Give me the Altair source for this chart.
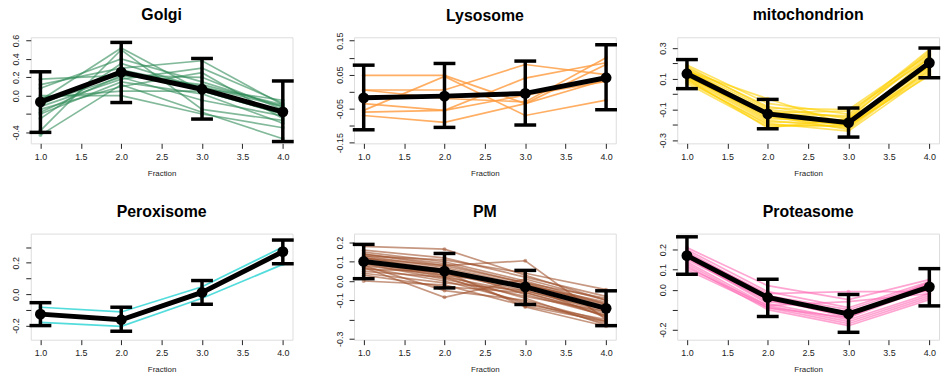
import json
import altair as alt
import pandas as pd

fractions = [1, 2, 3, 4]

# ---------------- data ----------------
golgi_lines = [
    [0.18, 0.22, 0.20, -0.15],
    [0.12, 0.30, 0.38, -0.10],
    [0.08, 0.40, 0.15, -0.12],
    [-0.05, 0.52, 0.05, -0.20],
    [-0.12, 0.18, 0.30, -0.08],
    [-0.15, 0.10, 0.25, -0.25],
    [-0.20, 0.15, 0.02, -0.30],
    [-0.38, 0.50, -0.15, -0.27],
    [-0.43, 0.12, -0.18, -0.47],
    [-0.10, 0.28, 0.10, -0.12],
    [-0.02, 0.05, 0.05, -0.20],
    [-0.18, 0.22, 0.12, -0.10],
    [0.00, 0.00, -0.20, -0.35],
    [-0.25, 0.35, 0.08, -0.05],
    [-0.08, 0.20, -0.05, -0.22],
]
golgi_mean = [-0.068, 0.257, 0.070, -0.176]
golgi_lo = [-0.40, -0.075, -0.255, -0.50]
golgi_hi = [0.26, 0.58, 0.405, 0.16]

lyso_lines = [
    [0.048, 0.048, -0.035, 0.035],
    [0.005, 0.005, 0.080, 0.050],
    [0.005, -0.020, -0.030, 0.100],
    [-0.035, -0.055, 0.040, 0.085],
    [-0.055, 0.045, -0.070, -0.025],
    [-0.060, -0.055, -0.010, 0.030],
    [-0.070, -0.090, -0.035, 0.080],
]
lyso_mean = [-0.018, -0.013, -0.005, 0.041]
lyso_lo = [-0.112, -0.105, -0.098, -0.053]
lyso_hi = [0.078, 0.083, 0.090, 0.138]

mito_lines = [
    [0.19, -0.06, -0.13, 0.29],
    [0.17, -0.08, -0.16, 0.27],
    [0.16, -0.10, -0.15, 0.25],
    [0.15, -0.03, -0.20, 0.24],
    [0.15, -0.12, -0.11, 0.23],
    [0.14, -0.11, -0.18, 0.22],
    [0.14, -0.13, -0.19, 0.21],
    [0.13, -0.14, -0.17, 0.20],
    [0.13, -0.12, -0.21, 0.19],
    [0.12, -0.15, -0.20, 0.20],
    [0.12, -0.16, -0.18, 0.18],
    [0.11, -0.17, -0.22, 0.17],
    [0.11, -0.14, -0.23, 0.16],
    [0.10, -0.18, -0.19, 0.15],
    [0.09, -0.20, -0.21, 0.14],
    [0.08, -0.19, -0.24, 0.13],
    [0.07, -0.21, -0.20, 0.12],
    [0.18, -0.09, -0.10, 0.26],
    [0.16, -0.13, -0.14, 0.28],
    [0.10, -0.22, -0.16, 0.18],
]
mito_mean = [0.133, -0.128, -0.186, 0.204]
mito_lo = [0.036, -0.225, -0.279, 0.107]
mito_hi = [0.225, -0.034, -0.090, 0.300]

perox_lines = [
    [-0.083, -0.113, 0.047, 0.300],
    [-0.180, -0.205, -0.026, 0.190],
]
perox_mean = [-0.127, -0.163, 0.011, 0.271]
perox_lo = [-0.200, -0.236, -0.064, 0.194]
perox_hi = [-0.054, -0.083, 0.087, 0.345]

pm_lines = [
    [0.18, 0.165, 0.03, -0.10],
    [0.16, 0.12, 0.02, -0.08],
    [0.15, 0.10, 0.00, -0.12],
    [0.14, 0.09, -0.01, -0.13],
    [0.14, 0.08, 0.105, -0.20],
    [0.13, 0.07, -0.02, -0.11],
    [0.13, 0.11, 0.04, -0.045],
    [0.12, 0.06, -0.03, -0.15],
    [0.12, 0.05, -0.04, -0.14],
    [0.11, 0.04, -0.05, -0.16],
    [0.11, 0.03, -0.02, -0.12],
    [0.10, 0.02, -0.06, -0.17],
    [0.10, 0.06, -0.07, -0.18],
    [0.09, 0.01, -0.08, -0.16],
    [0.09, 0.04, -0.03, -0.19],
    [0.08, -0.05, -0.10, -0.21],
    [0.08, 0.03, -0.09, -0.23],
    [0.07, 0.00, -0.11, -0.22],
    [0.07, -0.085, 0.01, -0.10],
    [0.06, 0.05, -0.135, -0.235],
    [0.05, 0.02, -0.12, -0.20],
    [0.04, -0.01, -0.05, -0.15],
    [0.03, -0.03, -0.06, -0.18],
    [0.00, -0.02, -0.13, -0.21],
    [0.12, 0.08, -0.01, -0.09],
]
pm_mean = [0.101, 0.051, -0.031, -0.142]
pm_lo = [0.012, -0.036, -0.122, -0.232]
pm_hi = [0.190, 0.143, 0.055, -0.051]

prot_lines = [
    [0.21, 0.02, -0.05, 0.05],
    [0.20, -0.01, -0.09, 0.04],
    [0.19, -0.03, -0.10, 0.03],
    [0.18, -0.02, -0.01, -0.01],
    [0.18, -0.05, -0.12, 0.02],
    [0.17, -0.04, -0.14, 0.01],
    [0.16, -0.06, -0.11, 0.00],
    [0.16, -0.07, -0.15, -0.02],
    [0.15, -0.05, -0.13, 0.03],
    [0.14, -0.08, -0.16, -0.03],
    [0.13, -0.09, -0.17, -0.04],
    [0.12, -0.10, -0.18, -0.05],
    [0.11, -0.08, -0.06, -0.02],
    [0.10, -0.09, -0.14, 0.04],
]
prot_mean = [0.170, -0.039, -0.121, 0.014]
prot_lo = [0.077, -0.134, -0.213, -0.081]
prot_hi = [0.264, 0.052, -0.024, 0.105]

x_ticks = [1.0, 1.5, 2.0, 2.5, 3.0, 3.5, 4.0]

panels = [
    dict(name="Golgi", color="#2E8B57", op=0.6, lines=golgi_lines, mean=golgi_mean, lo=golgi_lo, hi=golgi_hi,
         domain=[-0.52, 0.636], ticks=[-0.4, -0.2, 0.0, 0.2, 0.4, 0.6],
         shown=["0.6", "0.4", "0.2", "0.0", "-0.4"], fmt=".1f", toff=11),
    dict(name="Lysosome", color="#FF9A3C", op=0.8, lines=lyso_lines, mean=lyso_mean, lo=lyso_lo, hi=lyso_hi,
         domain=[-0.152, 0.16], ticks=[-0.15, -0.10, -0.05, 0.0, 0.05, 0.10, 0.15],
         shown=["0.15", "0.05", "-0.05", "-0.15"], fmt=".2f", toff=8.5),
    dict(name="mitochondrion", color="#FFD000", op=0.6, lines=mito_lines, mean=mito_mean, lo=mito_lo, hi=mito_hi,
         domain=[-0.32, 0.37], ticks=[-0.3, -0.2, -0.1, 0.0, 0.1, 0.2, 0.3],
         shown=["0.3", "0.1", "-0.1", "-0.3"], fmt=".1f", toff=14),
    dict(name="Peroxisome", color="#40D8D8", op=0.9, lines=perox_lines, mean=perox_mean, lo=perox_lo, hi=perox_hi,
         domain=[-0.29, 0.386], ticks=[-0.2, -0.1, 0.0, 0.1, 0.2, 0.3],
         shown=["0.2", "0.0", "-0.2"], fmt=".1f", toff=14),
    dict(name="PM", color="#A0522D", op=0.6, lines=pm_lines, mean=pm_mean, lo=pm_lo, hi=pm_hi,
         domain=[-0.305, 0.246], ticks=[-0.3, -0.2, -0.1, 0.0, 0.1, 0.2],
         shown=["0.2", "0.1", "0.0", "-0.1", "-0.3"], fmt=".1f", toff=14),
    dict(name="Proteasome", color="#FF69B4", op=0.6, lines=prot_lines, mean=prot_mean, lo=prot_lo, hi=prot_hi,
         domain=[-0.25, 0.28], ticks=[-0.2, -0.1, 0.0, 0.1, 0.2],
         shown=["0.2", "0.1", "0.0", "-0.2"], fmt=".1f", toff=14),
]

FONT = "Liberation Sans"
W, H = 264, 107


def make_panel(p):
    rows = []
    for i, prof in enumerate(p["lines"]):
        for f, v in zip(fractions, prof):
            rows.append({"id": i, "fraction": f, "value": v})
    ldf = pd.DataFrame(rows)
    mdf = pd.DataFrame({"fraction": fractions, "mean": p["mean"], "lo": p["lo"], "hi": p["hi"]})

    fmtd = "replace(format(datum.value, '%s'), '\u2212', '-')" % p["fmt"]
    label_expr = "indexof(%s, %s) >= 0 ? %s : ''" % (json.dumps(p["shown"]), fmtd, fmtd)

    xaxis = alt.Axis(values=x_ticks, format=".1f", title="Fraction", grid=False, domain=False,
                     tickSize=5, tickColor="#222", labelFontSize=9, labelColor="#222",
                     labelPadding=4, titleFontSize=8, titleFontWeight="normal",
                     titleColor="#222", titlePadding=8, labelFont=FONT, titleFont=FONT)
    yaxis = alt.Axis(values=p["ticks"], labelExpr=label_expr, title=None, grid=False, domain=False,
                     tickSize=5, tickColor="#222", labelFontSize=9, labelColor="#222",
                     labelAngle=270, labelAlign="center", labelBaseline="bottom",
                     labelPadding=5, minExtent=25, maxExtent=25, labelFont=FONT,
                     labelOverlap=False)
    xs = alt.Scale(domain=[0.88, 4.12], nice=False, zero=False)
    ys = alt.Scale(domain=p["domain"], nice=False, zero=False)

    def X():
        return alt.X("fraction:Q", scale=xs, axis=xaxis)

    def Y(field):
        return alt.Y(field, scale=ys, axis=yaxis)

    base_l = alt.Chart(ldf)
    lines = base_l.mark_line(strokeWidth=1.7, opacity=p["op"], color=p["color"]).encode(
        x=X(), y=Y("value:Q"), detail="id:N")
    pts = base_l.mark_circle(size=16, opacity=0.5, color=p["color"]).encode(
        x=X(), y=Y("value:Q"))
    base_m = alt.Chart(mdf)
    err = base_m.mark_rule(strokeWidth=3.5, color="black").encode(
        x=X(), y=Y("lo:Q"), y2="hi:Q")
    caps = base_m.transform_fold(["lo", "hi"], as_=["k", "v"]).mark_tick(
        orient="horizontal", size=22, thickness=3.5, color="black", opacity=1).encode(
        x=X(), y=Y("v:Q"))
    mline = base_m.mark_line(strokeWidth=5, color="black").encode(x=X(), y=Y("mean:Q"))
    mpts = base_m.mark_circle(size=120, color="black", opacity=1).encode(x=X(), y=Y("mean:Q"))

    return alt.layer(lines, pts, err, caps, mline, mpts).properties(
        width=W, height=H,
        title=alt.TitleParams(p["name"], fontSize=16, fontWeight="bold", font=FONT,
                              color="#000", offset=p["toff"], frame="group", anchor="middle"))


charts = [make_panel(p) for p in panels]
row1 = alt.hconcat(*charts[:3], spacing=34)
row2 = alt.hconcat(*charts[3:], spacing=34)
chart = alt.vconcat(row1, row2, spacing=25).properties(
    padding={"left": 5, "top": 5, "right": 1, "bottom": 0}
).configure_view(stroke="black", strokeWidth=1).configure(background="white")

chart.save("out.html", embed_options={"renderer": "svg", "actions": False})
